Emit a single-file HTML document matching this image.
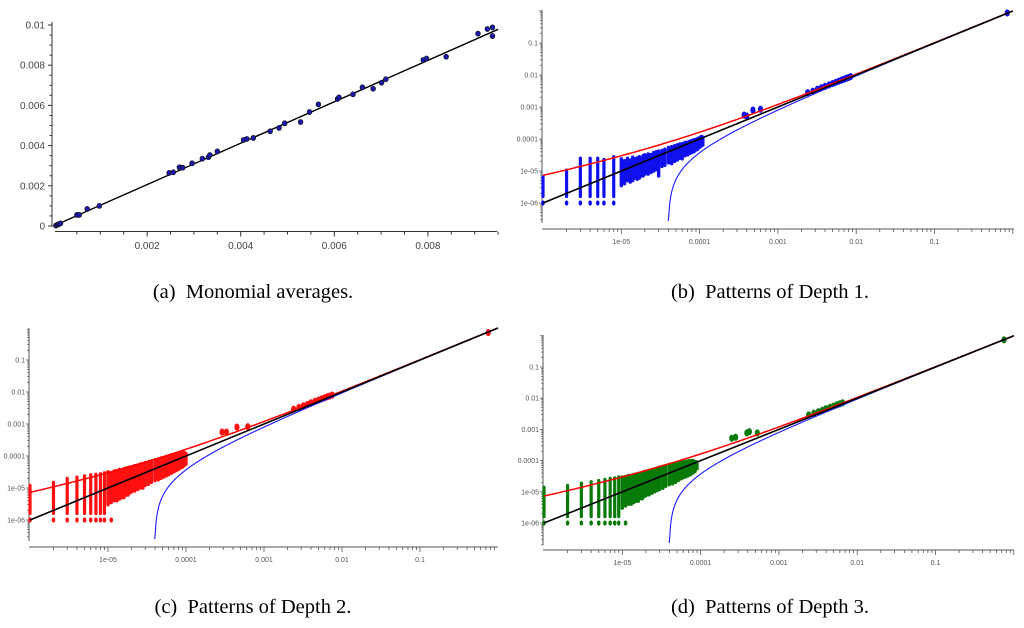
<!DOCTYPE html>
<html><head><meta charset="utf-8">
<style>
html,body{margin:0;padding:0;background:#fff;}
svg{display:block;}
.cap{font-family:"Liberation Serif",serif;font-size:20.5px;fill:#000;white-space:pre;}
.tl{font-family:"Liberation Sans",sans-serif;font-size:7px;fill:#555;}
.tla{font-family:"Liberation Sans",sans-serif;font-size:10px;fill:#444;}
</style></head>
<body>
<svg id="fig" width="1024" height="628" viewBox="0 0 1024 628" xmlns="http://www.w3.org/2000/svg">
<g id="pa"></g>
<g id="pb"></g>
<g id="pc"></g>
<g id="pd"></g>
<text class="cap" x="253" y="298" text-anchor="middle">(a)&#160; Monomial averages.</text>
<text class="cap" x="770" y="298" text-anchor="middle">(b)&#160; Patterns of Depth 1.</text>
<text class="cap" x="253" y="613" text-anchor="middle">(c)&#160; Patterns of Depth 2.</text>
<text class="cap" x="770" y="613" text-anchor="middle">(d)&#160; Patterns of Depth 3.</text>
</svg>
<script>
// ---- Panel (a) data (units of 1e-3) ----
const aX=[0.05,0.08,0.1,0.12,0.15,0.5,0.55,0.72,0.98,2.47,2.56,2.69,2.76,2.96,3.18,3.31,3.34,3.50,4.06,4.13,4.27,4.63,4.82,4.94,5.28,5.47,5.66,6.07,6.10,6.40,6.60,6.83,7.01,7.10,7.90,7.97,8.39,9.07,9.27,9.38,9.38];
const aY=[0.02,0.06,0.08,0.1,0.13,0.55,0.55,0.85,1.0,2.64,2.67,2.92,2.9,3.12,3.35,3.42,3.53,3.71,4.28,4.33,4.38,4.71,4.88,5.11,5.17,5.67,6.05,6.32,6.4,6.55,6.9,6.83,7.13,7.3,8.26,8.33,8.42,9.57,9.8,9.88,9.45];
const aSlope=1.03;
const aXTicks=[2,4,6,8];
const aXTickLabels=["0.002","0.004","0.006","0.008"];
const aYTicks=[0,2,4,6,8,10];
const aYTickLabels=["0","0.002","0.004","0.006","0.008","0.01"];

// ---- Log panels shared ticks ----
const logYTicks=[-1,-2,-3,-4,-5,-6];
const logYTickLabels=["0.1","0.01","0.001","0.0001","1e-05","1e-06"];
const logXTicks=[-5,-4,-3,-2,-1];
const logXTickLabels=["1e-05","0.0001","0.001","0.01","0.1"];
const boundC=0.0063;

// ---- Panel (b) data ----
const bStripeX=[1e-6,2e-6,3e-6,4e-6,5e-6,6e-6,8e-6];
const bStripeLo=[1.6e-6,1.6e-6,1.6e-6,1.6e-6,1.6e-6,1.6e-6,1.6e-6];
const bStripeHi=[6.5e-6,1.07e-5,2.5e-5,2.5e-5,2.5e-5,2.3e-5,2.8e-5];
const bBaseX=[1e-6,2e-6,3e-6,4e-6,5e-6,6e-6,8e-6];
const bCloudX=[1.0e-5,1.1e-5,1.2e-5,1.3e-5,1.4e-5,1.5e-5,1.6e-5,1.7e-5,1.8e-5,1.9e-5,2.0e-5,2.2e-5,2.4e-5,2.6e-5,2.8e-5,3.0e-5,3.3e-5,3.6e-5,4.0e-5,4.4e-5,4.8e-5,5.2e-5,5.6e-5,6.0e-5,6.5e-5,7.0e-5,7.5e-5,8.0e-5,8.5e-5,9.0e-5,9.5e-5,1.0e-4,1.05e-4,1.1e-4];
const bCloudLo=[3.5e-6,4e-6,5e-6,4.5e-6,5e-6,6e-6,5.5e-6,6e-6,7e-6,7e-6,8e-6,8e-6,9e-6,1.0e-5,1.1e-5,7e-6,1.4e-5,1.5e-5,1.8e-5,1.7e-5,2.0e-5,2.2e-5,2.5e-5,2.4e-5,3.0e-5,3.2e-5,3.5e-5,3.8e-5,4.0e-5,4.5e-5,4.8e-5,5.5e-5,6.0e-5,6.5e-5];
const bCloudHi=[2.4e-5,2.1e-5,2.5e-5,2.2e-5,2.7e-5,2.4e-5,2.6e-5,2.8e-5,2.5e-5,3.0e-5,3.2e-5,3.4e-5,3.3e-5,3.8e-5,4.0e-5,4.2e-5,4.4e-5,4.8e-5,5.5e-5,5.8e-5,6.2e-5,6.6e-5,7.0e-5,7.2e-5,7.8e-5,8.0e-5,8.5e-5,9.0e-5,9.5e-5,9.8e-5,1.05e-4,1.1e-4,1.2e-4,1.15e-4];
const bPtX=[3.7e-4,4.0e-4,4.8e-4,6.0e-4,0.0024,0.0028,0.0032,0.0036,0.004,0.0045,0.005,0.0055,0.006,0.0065,0.007,0.0075,0.008,0.0085,0.85];
const bPtY=[5.6e-4,5.2e-4,8.0e-4,8.5e-4,0.0028,0.0031,0.0036,0.0040,0.0044,0.0049,0.0054,0.0059,0.0064,0.0069,0.0074,0.0079,0.0084,0.0089,0.87];

// ---- Panel (c) data ----
const cStripeX=[1e-6,2e-6,3e-6,4e-6,5e-6,6e-6,7e-6,8e-6,9e-6];
const cStripeLo=[1.6e-6,1.6e-6,1.6e-6,1.6e-6,1.6e-6,1.6e-6,1.6e-6,1.6e-6,1.6e-6];
const cStripeHi=[1.2e-5,1.5e-5,2.0e-5,2.2e-5,2.4e-5,2.6e-5,2.7e-5,2.8e-5,3.0e-5];
const cBaseX=[1e-6,2e-6,3e-6,4e-6,5e-6,6e-6,7e-6,8e-6,9e-6,1.1e-5];
const cCloudX=[1.0e-5,1.1e-5,1.2e-5,1.3e-5,1.4e-5,1.5e-5,1.6e-5,1.7e-5,1.8e-5,1.9e-5,2.0e-5,2.2e-5,2.4e-5,2.6e-5,2.8e-5,3.0e-5,3.3e-5,3.6e-5,4.0e-5,4.4e-5,4.8e-5,5.2e-5,5.6e-5,6.0e-5,6.5e-5,7.0e-5,7.5e-5,8.0e-5,8.5e-5,9.0e-5,9.5e-5,1.0e-4];
const cCloudLo=[3e-6,3.5e-6,4e-6,4e-6,4.5e-6,5e-6,5e-6,6e-6,6e-6,7e-6,7.5e-6,8e-6,9e-6,1.0e-5,1.0e-5,1.2e-5,1.3e-5,1.5e-5,1.7e-5,1.8e-5,2.0e-5,2.2e-5,2.4e-5,2.6e-5,2.9e-5,3.2e-5,3.5e-5,3.8e-5,4.2e-5,4.5e-5,5.0e-5,5.5e-5];
const cCloudHi=[3.2e-5,3.0e-5,3.4e-5,3.5e-5,3.8e-5,3.6e-5,4.0e-5,4.2e-5,4.3e-5,4.5e-5,4.6e-5,5.0e-5,5.2e-5,5.6e-5,5.8e-5,6.2e-5,6.6e-5,7.0e-5,7.6e-5,8.0e-5,8.6e-5,9.0e-5,9.5e-5,1.0e-4,1.05e-4,1.1e-4,1.15e-4,1.2e-4,1.25e-4,1.3e-4,1.3e-4,1.2e-4];
const cPtX=[2.9e-4,3.3e-4,4.5e-4,6.2e-4,0.0024,0.0028,0.0032,0.0036,0.004,0.0045,0.005,0.0055,0.006,0.0065,0.007,0.0075,0.75];
const cPtY=[5.6e-4,5.6e-4,8.0e-4,8.2e-4,0.0029,0.0033,0.0037,0.0041,0.0046,0.0051,0.0056,0.0061,0.0066,0.0071,0.0075,0.0080,0.72];

// ---- Panel (d) data ----
const dStripeX=[1e-6,2e-6,3e-6,4e-6,5e-6,6e-6,7e-6,8e-6,9e-6];
const dStripeLo=[1.6e-6,1.6e-6,1.6e-6,1.6e-6,1.6e-6,1.6e-6,1.6e-6,1.6e-6,1.6e-6];
const dStripeHi=[1.4e-5,1.6e-5,1.9e-5,2.1e-5,2.3e-5,2.5e-5,2.7e-5,2.8e-5,3.0e-5];
const dBaseX=[1e-6,2e-6,3e-6,4e-6,5e-6,6e-6,7e-6,8e-6,9e-6,1.1e-5];
const dCloudX=[1.0e-5,1.1e-5,1.2e-5,1.3e-5,1.4e-5,1.5e-5,1.6e-5,1.7e-5,1.8e-5,1.9e-5,2.0e-5,2.2e-5,2.4e-5,2.6e-5,2.8e-5,3.0e-5,3.3e-5,3.6e-5,4.0e-5,4.4e-5,4.8e-5,5.2e-5,5.6e-5,6.0e-5,6.5e-5,7.0e-5,7.5e-5,8.0e-5,8.5e-5,9.0e-5];
const dCloudLo=[3e-6,3.5e-6,4e-6,4e-6,4.5e-6,5e-6,5e-6,6e-6,6e-6,7e-6,7.5e-6,8e-6,9e-6,1.0e-5,1.1e-5,1.2e-5,1.3e-5,1.5e-5,1.7e-5,1.8e-5,2.0e-5,2.3e-5,2.6e-5,2.8e-5,3.0e-5,3.3e-5,3.6e-5,4.0e-5,4.5e-5,5.5e-5];
const dCloudHi=[3.0e-5,3.1e-5,3.3e-5,3.4e-5,3.6e-5,3.7e-5,3.9e-5,4.0e-5,4.2e-5,4.4e-5,4.6e-5,4.9e-5,5.2e-5,5.5e-5,5.8e-5,6.2e-5,6.6e-5,7.0e-5,7.6e-5,8.0e-5,8.5e-5,8.8e-5,9.0e-5,9.2e-5,9.5e-5,9.8e-5,1.0e-4,1.0e-4,9.5e-5,9.0e-5];
const dPtX=[2.5e-4,2.8e-4,3.9e-4,4.2e-4,5.3e-4,0.0024,0.0028,0.0032,0.0036,0.004,0.0045,0.005,0.0055,0.006,0.0065,0.75];
const dPtY=[5.2e-4,5.6e-4,7.7e-4,8.4e-4,7.7e-4,0.0029,0.0033,0.0037,0.0041,0.0046,0.0051,0.0056,0.0061,0.0066,0.0071,0.74];

const NS="http://www.w3.org/2000/svg";
function mk(parent,tag,attrs){const e=document.createElementNS(NS,tag);for(const k in attrs)e.setAttribute(k,attrs[k]);parent.appendChild(e);return e;}

// ---------- Panel (a) ----------
(function(){
  const g=document.getElementById('pa');
  const sx=v=>53.5+v*46.8, sy=v=>226-v*20.1;
  const ya=mk(g,'line',{x1:52,y1:22,x2:52,y2:227,stroke:'#333','stroke-width':1});
  
  
  const xa=mk(g,'line',{x1:55,y1:231.5,x2:497,y2:231.5,stroke:'#333','stroke-width':1});
  
  
  for(let v=0;v<=10.01;v+=0.5){
    const major=Math.abs(v/2-Math.round(v/2))<1e-6;
    mk(g,'line',{x1:52-(major?4:2.5),y1:sy(v),x2:52,y2:sy(v),stroke:'#333','stroke-width':1});
  }
  for(let v=0.5;v<=9.5;v+=0.5){
    const major=Math.abs(v/2-Math.round(v/2))<1e-6;
    mk(g,'line',{x1:sx(v),y1:231.5,x2:sx(v),y2:231.5+(major?5:3),stroke:'#333','stroke-width':1});
  }
  aYTicks.forEach((v,i)=>{
    const t=mk(g,'text',{x:45,y:sy(v)+3.5,class:'tla','text-anchor':'end'});
    t.textContent=aYTickLabels[i];
    
    
  });
  aXTicks.forEach((v,i)=>{
    const t=mk(g,'text',{x:sx(v),y:249,class:'tla','text-anchor':'middle'});
    t.textContent=aXTickLabels[i];
    
    
  });
  const ln=mk(g,'line',{x1:sx(0),y1:sy(0),x2:sx(9.5),y2:sy(9.5*aSlope),stroke:'#000','stroke-width':1.4});
  
  
  aX.forEach((x,i)=>{
    const c=mk(g,'ellipse',{cx:sx(x),cy:sy(aY[i]),rx:2.4,ry:2.6,fill:'#1a1aa8',stroke:'#111','stroke-width':0.6});
    
    
  });
})();

// ---------- Log panels ----------
function logPanel(id,cfg,color,sX,sLo,sHi,baseX,cX,cLo,cHi,pX,pY){
  const g=document.getElementById(id);
  const L=Math.log10;
  const sx=v=>cfg.x6+(L(v)+6)*cfg.xd, sy=v=>cfg.y6-(L(v)+6)*cfg.yd;
  const ya=mk(g,'line',{x1:cfg.ax,y1:cfg.top,x2:cfg.ax,y2:cfg.bot,stroke:'#555','stroke-width':1});
  
  
  const xa=mk(g,'line',{x1:cfg.ax,y1:cfg.xb,x2:cfg.right,y2:cfg.xb,stroke:'#555','stroke-width':1});
  
  
  for(let e=-7;e<=0;e++)for(let k=1;k<10;k++){
    const v=k*Math.pow(10,e);
    const py=sy(v); if(py>cfg.top&&py<cfg.bot) mk(g,'line',{x1:cfg.ax-(k==1?3:1.8),y1:py,x2:cfg.ax,y2:py,stroke:'#555','stroke-width':0.8});
    const px=sx(v); if(px>cfg.ax+1&&px<cfg.right) mk(g,'line',{x1:px,y1:cfg.xb,x2:px,y2:cfg.xb+(k==1?5:3),stroke:'#555','stroke-width':0.8});
  }
  logYTicks.forEach((e,i)=>{
    const t=mk(g,'text',{x:cfg.ax-4,y:sy(Math.pow(10,e))+2.5,class:'tl','text-anchor':'end'});
    t.textContent=logYTickLabels[i];
    
    
  });
  logXTicks.forEach((e,i)=>{
    const t=mk(g,'text',{x:sx(Math.pow(10,e)),y:cfg.xb+15,class:'tl','text-anchor':'middle'});
    t.textContent=logXTickLabels[i];
    
    
  });
  const sc=mk(g,'g',{});
  
  
  sX.forEach((x,i)=>{mk(sc,'line',{x1:sx(x),y1:sy(sLo[i]),x2:sx(x),y2:sy(sHi[i]),stroke:color,'stroke-width':3.2,'stroke-linecap':'round'});});
  baseX.forEach(x=>{mk(sc,'ellipse',{cx:sx(x),cy:sy(1e-6),rx:1.8,ry:2.6,fill:color});});
  cX.forEach((x,i)=>{mk(sc,'line',{x1:sx(x),y1:sy(cLo[i]),x2:sx(x),y2:sy(cHi[i]),stroke:color,'stroke-width':3.4,'stroke-linecap':'round'});});
  pX.forEach((x,i)=>{mk(sc,'ellipse',{cx:sx(x),cy:sy(pY[i]),rx:2.6,ry:3.6,fill:color});});
  let red='',blue='';
  for(let i=0;i<=300;i++){
    const lx=-6+6*i/300, x=Math.pow(10,lx);
    red+=(i?'L':'M')+sx(x).toFixed(1)+','+sy(x+boundC*Math.sqrt(x)).toFixed(1);
  }
  let started=false;
  for(let i=0;i<=600;i++){
    const lx=-4.6+4.6*i/600, x=Math.pow(10,lx), y=x-boundC*Math.sqrt(x);
    if(y<=0)continue; let py=sy(y); if(py>cfg.bot-2){ if(i<599 && sy(Math.pow(10,-4.6+4.6*(i+1)/600)-boundC*Math.sqrt(Math.pow(10,-4.6+4.6*(i+1)/600)))>cfg.bot-2)continue; py=Math.min(py,cfg.bot-2);}
    blue+=(started?'L':'M')+sx(x).toFixed(1)+','+py.toFixed(1); started=true;
  }
  const pb=mk(g,'path',{d:blue,fill:'none',stroke:'#1a1aff','stroke-width':1.1});
  
  
  const pr=mk(g,'path',{d:red,fill:'none',stroke:'#ff0000','stroke-width':1.5});
  
  
  const pk=mk(g,'line',{x1:sx(1e-6),y1:sy(1e-6),x2:sx(1),y2:sy(1),stroke:'#000','stroke-width':1.6});
  
  
}
logPanel('pb',{x6:543,xd:78.3,y6:203,yd:32,ax:542,top:10,bot:223,xb:229,right:1014},'#1010ee',bStripeX,bStripeLo,bStripeHi,bBaseX,bCloudX,bCloudLo,bCloudHi,bPtX,bPtY);
logPanel('pc',{x6:30,xd:78,y6:520,yd:32,ax:29,top:328,bot:541,xb:547,right:498},'#ff1010',cStripeX,cStripeLo,cStripeHi,cBaseX,cCloudX,cCloudLo,cCloudHi,cPtX,cPtY);
logPanel('pd',{x6:544,xd:78.3,y6:523,yd:31.2,ax:543,top:335,bot:545,xb:550,right:1014},'#087a08',dStripeX,dStripeLo,dStripeHi,dBaseX,dCloudX,dCloudLo,dCloudHi,dPtX,dPtY);
</script>
</body></html>
